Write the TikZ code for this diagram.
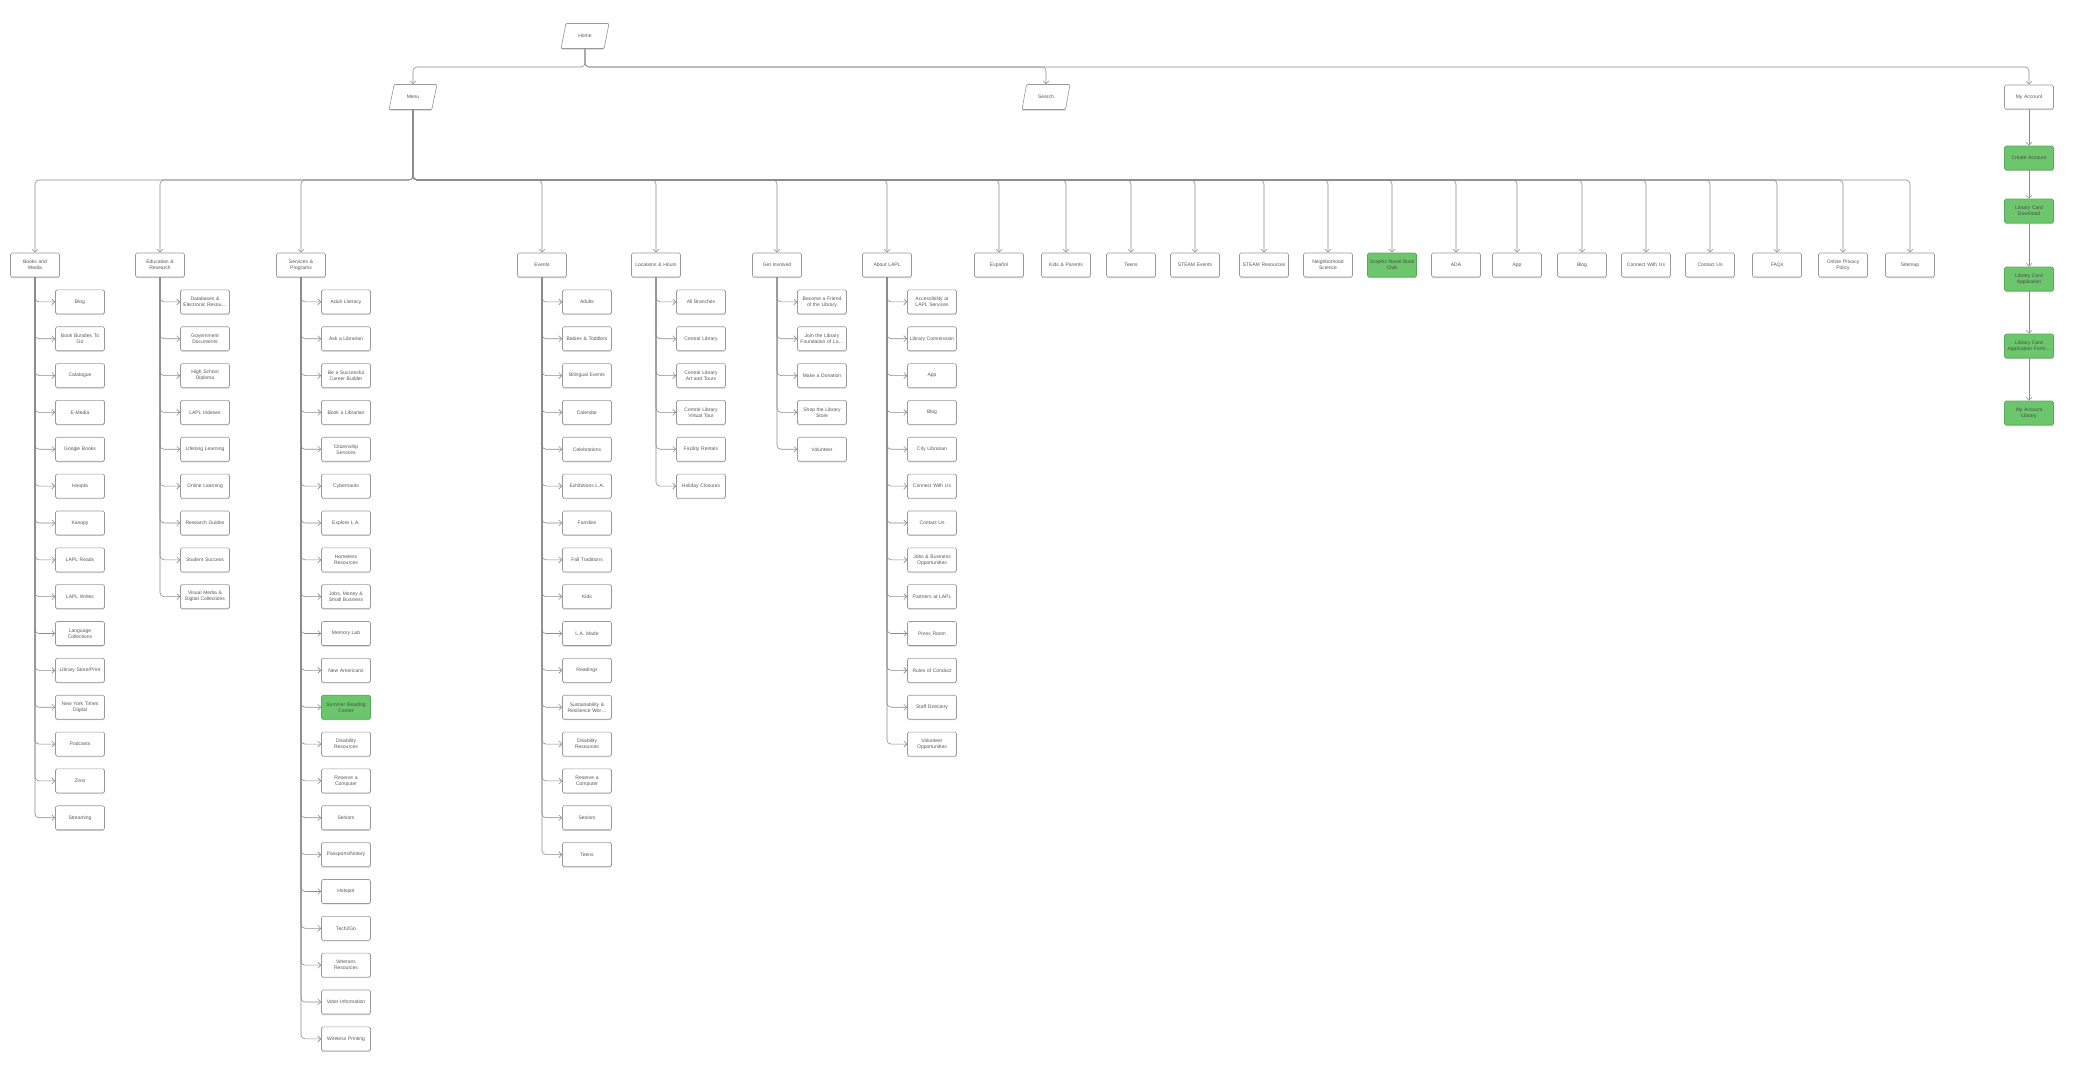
\documentclass[tikz,border=0pt]{standalone}
\usepackage{fontspec}
\setmainfont{Liberation Sans}
\usepackage{tikz}
\usetikzlibrary{positioning,arrows.meta,shapes.geometric,shadows}
\definecolor{mapgreen}{RGB}{108,198,108}
\tikzset{
  mapbox/.style={draw=black!40, fill=white, rounded corners=1.5pt, line width=0.6pt,
    minimum width=49pt, minimum height=24pt, text width=46pt, align=center, inner sep=1pt,
    font=\fontsize{5}{6}\selectfont, text=black!65,
    drop shadow={shadow xshift=0pt, shadow yshift=-1pt, fill=black!20, opacity=1}},
  mapgreen/.style={mapbox, fill=mapgreen, draw=mapgreen!85!black, text=black!70},
  mapslant/.style={mapbox, trapezium, trapezium left angle=70, trapezium right angle=110,
    trapezium stretches=true, text width=, minimum width=48pt, minimum height=25pt, rounded corners=1pt},
  maparrow/.style={-{Straight Barb[length=3pt,width=6pt]}, draw=black!45, line width=0.6pt, rounded corners=4pt},
  greenif/.code 2 args={\ifnum#1=#2\relax\pgfkeysalso{mapgreen}\fi},
}

\begin{document}
\begin{tikzpicture}[x=1pt,y=-1pt]
  \useasboundingbox (0,0) rectangle (2074,1072);
  % top levels
  \node[mapslant] (home) at (585,36) {Home};
  \node[mapslant] (menu) at (413,97) {Menu};
  \node[mapslant] (search) at (1046,97) {Search};
  \node[mapbox] (account) at (2029,97) {My Account};
  \coordinate (topbus) at (0,67);
  \coordinate (menubus) at (0,180);
  \foreach \n in {menu,search,account}
    \draw[maparrow] (home.south) -- (home.south |- topbus) -| (\n.north);

  % menu sections
  \foreach \n/\x/\t [count=\i] in {books/35/{Books and\\Media}, edu/160/{Education \&\\Research},
      svc/301/{Services \&\\Programs}, events/542/Events, loc/656/Locations \& Hours,
      inv/777/Get Involved, about/887/About LAPL, espanol/999/Español, kids/1066/Kids \& Parents,
      teens/1131/Teens, steamev/1195/STEAM Events, steamres/1264/STEAM Resources,
      nbhd/1328/{Neighborhood\\Science}, graphic/1392/{Graphic Novel Book\\Club}, ada/1456/ADA,
      app/1517/App, blog/1582/Blog, connect/1646/Connect With Us, contact/1710/Contact Us,
      faqs/1777/FAQs, privacy/1843/{Online Privacy\\Policy}, sitemap/1910/Sitemap}{
    \node[mapbox, greenif={\i}{14}] (\n) at (\x,265) {\t};
    \draw[maparrow] (menu.south) -- (menu.south |- menubus) -| (\n.north);
  }

  % books and media
  \foreach \t [count=\i] in {Blog, {Book Bundles To\\Go}, Catalogue, E-Media, Google Books, Hoopla,
      Kanopy, LAPL Reads, LAPL Writes, {Language\\Collections}, Library Store/Print,
      {New York Times\\Digital}, Podcasts, Zinio, Streaming}{
    \node[mapbox] (books\i) at (80,{265+36.85*\i}) {\t};
    \draw[maparrow] (books.south) |- (books\i.west);
  }
  % education and research
  \foreach \t [count=\i] in {{Databases \&\\Electronic Resou\ldots}, {Government\\Documents},
      {High School\\Diploma}, LAPL Indexes, Lifelong Learning, Online Learning, Research Guides,
      Student Success, {Visual Media \&\\Digital Collections}}{
    \node[mapbox] (edu\i) at (205,{265+36.85*\i}) {\t};
    \draw[maparrow] (edu.south) |- (edu\i.west);
  }
  % services and programs
  \foreach \t [count=\i] in {Adult Literacy, Ask a Librarian, {Be a Successful\\Career Builder},
      Book a Librarian, {Citizenship\\Services}, Cybernauts, Explore L.A., {Homeless\\Resources},
      {Jobs, Money \&\\Small Business}, Memory Lab, New Americans, {Summer Reading\\Center},
      {Disability\\Resources}, {Reserve a\\Computer}, Seniors, Passports/Notary, Hotspot, Tech2Go,
      {Veterans\\Resources}, Voter Information, Wireless Printing}{
    \node[mapbox, greenif={\i}{12}] (svc\i) at (346,{265+36.85*\i}) {\t};
    \draw[maparrow] (svc.south) |- (svc\i.west);
  }
  % events
  \foreach \t [count=\i] in {Adults, Babies \& Toddlers, Bilingual Events, Calendar, Celebrations,
      Exhibitions L.A., Families, Fall Traditions, Kids, L.A. Made, Readings,
      {Sustainability \&\\Resilience Wor\ldots}, {Disability\\Resources}, {Reserve a\\Computer},
      Seniors, Teens}{
    \node[mapbox] (events\i) at (587,{265+36.85*\i}) {\t};
    \draw[maparrow] (events.south) |- (events\i.west);
  }
  % locations and hours
  \foreach \t [count=\i] in {All Branches, Central Library, {Central Library\\Art and Tours},
      {Central Library\\Virtual Tour}, Facility Rentals, Holiday Closures}{
    \node[mapbox] (loc\i) at (701,{265+36.85*\i}) {\t};
    \draw[maparrow] (loc.south) |- (loc\i.west);
  }
  % get involved
  \foreach \t [count=\i] in {{Become a Friend\\of the Library}, {Join the Library\\Foundation of Lo\ldots},
      Make a Donation, {Shop the Library\\Store}, Volunteer}{
    \node[mapbox] (inv\i) at (822,{265+36.85*\i}) {\t};
    \draw[maparrow] (inv.south) |- (inv\i.west);
  }
  % about
  \foreach \t [count=\i] in {{Accessibility at\\LAPL Services}, Library Commission, App, Blog,
      City Librarian, Connect With Us, Contact Us, {Jobs \& Business\\Opportunities},
      Partners at LAPL, Press Room, Rules of Conduct, Staff Directory, {Volunteer\\Opportunities}}{
    \node[mapbox] (about\i) at (932,{265+36.85*\i}) {\t};
    \draw[maparrow] (about.south) |- (about\i.west);
  }

  % my account
  \node[mapgreen] (acc1) at (2029,158) {Create Account};
  \node[mapgreen] (acc2) at (2029,211) {Library Card\\Download};
  \node[mapgreen] (acc3) at (2029,279) {Library Card\\Application};
  \node[mapgreen] (acc4) at (2029,346) {Library Card\\Application Form\ldots};
  \node[mapgreen] (acc5) at (2029,413) {My Account\\Library};
  \draw[maparrow] (account) -- (acc1);
  \draw[maparrow] (acc1) -- (acc2);
  \draw[maparrow] (acc2) -- (acc3);
  \draw[maparrow] (acc3) -- (acc4);
  \draw[maparrow] (acc4) -- (acc5);
\end{tikzpicture}
\end{document}
